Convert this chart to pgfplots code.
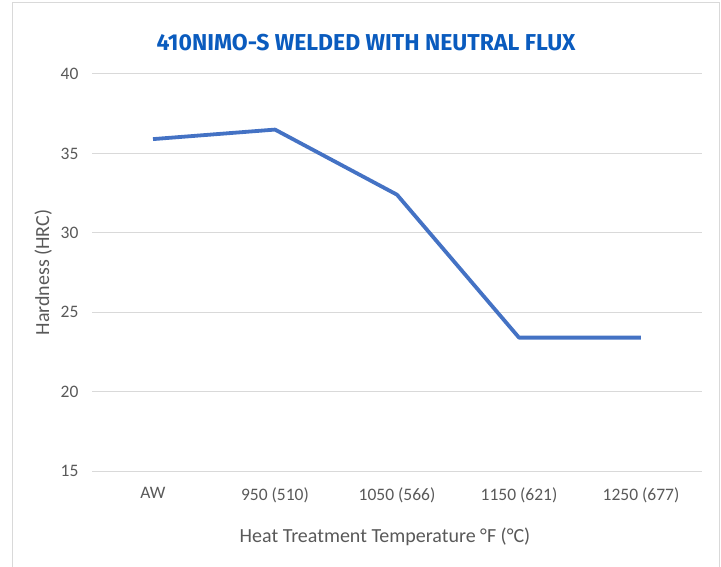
\documentclass[border=0pt]{standalone}
\usepackage{fontspec}
\setmainfont{Carlito}
\newfontfamily\titlefont{Fira Sans}
\usepackage{pgfplots}
\pgfplotsset{compat=1.18}
\definecolor{tickgray}{HTML}{595959}
\definecolor{gridgray}{HTML}{D9D9D9}
\definecolor{lineblue}{HTML}{4472C4}
\definecolor{titleblue}{HTML}{0A5BBE}
\begin{document}
\begin{tikzpicture}[x=1pt,y=1pt]
\useasboundingbox (0,0) rectangle (721,566);
\draw[gridgray, line width=1pt] (12,-10) rectangle (719,563);
\node[font=\titlefont\bfseries\fontsize{23}{26}\selectfont, text=titleblue] at (366,523) {410NIMO-S WELDED WITH NEUTRAL FLUX};
\begin{axis}[
  at={(92pt,95pt)}, anchor=south west,
  scale only axis, width=610pt, height=397pt,
  xmin=-0.5, xmax=4.5, ymin=15, ymax=40,
  xtick={0,1,2,3,4},
  xticklabels={AW,950 (510),1050 (566),1150 (621),1250 (677)},
  ytick={15,20,25,30,35,40},
  axis line style={draw=none},
  major tick length=0pt,
  ymajorgrids, grid style={gridgray, line width=1pt},
  tick label style={font=\fontsize{17.5}{20}\selectfont, text=tickgray},
  /pgf/number format/assume math mode=true,
  yticklabel style={xshift=-10pt},
  xticklabel style={yshift=-13pt},
  xlabel={Heat Treatment Temperature °F (°C)},
  ylabel={Hardness (HRC)},
  label style={font=\fontsize{20}{23}\selectfont, text=tickgray},
  xlabel style={yshift=-18pt, xshift=-12pt},
  ylabel style={yshift=2pt},
]
\addplot[lineblue, line width=3.8pt, line join=round] coordinates {(0,35.9) (1,36.5) (2,32.4) (3,23.4) (4,23.4)};
\end{axis}
\end{tikzpicture}
\end{document}
